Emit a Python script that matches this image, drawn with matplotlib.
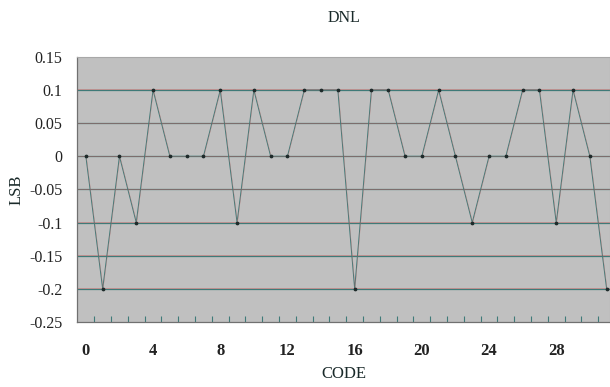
import numpy as np
import matplotlib
matplotlib.use('Agg')
import matplotlib.pyplot as plt
import matplotlib.transforms as mtransforms

# DNL per code (LSB)
codes = np.arange(32)
dnl = [0, -0.2, 0, -0.1, 0.1, 0, 0, 0, 0.1, -0.1,
       0.1, 0, 0, 0.1, 0.1, 0.1, -0.2, 0.1, 0.1, 0,
       0, 0.1, 0, -0.1, 0, 0, 0.1, 0.1, -0.1, 0.1,
       0, -0.2]
yticks = [0.15, 0.1, 0.05, 0, -0.05, -0.1, -0.15, -0.2, -0.25]
ytick_labels = ['0.15', '0.1', '0.05', '0', '-0.05', '-0.1', '-0.15', '-0.2', '-0.25']
xticks = [0, 4, 8, 12, 16, 20, 24, 28]

plt.rcParams['font.family'] = ['Liberation Serif', 'DejaVu Serif']

fig = plt.figure(figsize=(6.1, 3.87), dpi=100)
ax = fig.add_axes([0.127, 0.168, 0.873, 0.685])
ax.set_facecolor('#c0c0c0')

teal = '#3f7a78'
red = '#c86060'
off = mtransforms.ScaledTranslation(0, 0.6/100, fig.dpi_scale_trans)
for yv in yticks[1:-1]:
    ax.plot([0, 1], [yv, yv], color=teal, lw=0.9, zorder=1,
            transform=ax.get_yaxis_transform())
    ax.plot([0, 1], [yv, yv], color=red, lw=0.4, alpha=0.8, zorder=1,
            transform=ax.get_yaxis_transform() + off)

ax.plot(codes, dnl, color=teal, lw=0.7, zorder=2)
ax.plot(codes, dnl, color=red, lw=0.3, alpha=0.6, zorder=2,
        transform=ax.transData + mtransforms.ScaledTranslation(0.5/100, 0, fig.dpi_scale_trans))
ax.plot(codes, dnl, ls='none', marker='o', ms=1.7, color='#1e2a2a', zorder=3)

ax.set_xlim(-0.5, 31.2)
ax.set_ylim(-0.25, 0.15)

ax.set_yticks(yticks)
ax.set_yticklabels(ytick_labels, fontsize=11.5, color='#222222')
ax.tick_params(axis='y', length=0, pad=11)

ax.set_xticks(xticks)
ax.set_xticklabels([str(v) for v in xticks], fontsize=12, fontweight='bold', color='#222222')
ax.set_xticks(np.arange(0.5, 31, 1), minor=True)
ax.tick_params(axis='x', which='major', length=0, pad=15)
ax.tick_params(axis='x', which='minor', direction='in', length=4, width=0.8, color=teal)

for s in ['top', 'right']:
    ax.spines[s].set_color('#a8a8a8')
    ax.spines[s].set_linewidth(0.8)
ax.spines['left'].set_color('#707070')
ax.spines['bottom'].set_color('#707070')
ax.spines['left'].set_linewidth(0.9)
ax.spines['bottom'].set_linewidth(0.9)

ax.set_title('DNL', fontsize=11.5, color='#1a2a2a', pad=25)
ax.set_xlabel('CODE', fontsize=12, color='#1a2a2a', labelpad=5)
ax.set_ylabel('LSB', fontsize=12, color='#1a2a2a')
ax.yaxis.set_label_coords(-0.1, 0.5)

fig.savefig('out.png', dpi=100)
